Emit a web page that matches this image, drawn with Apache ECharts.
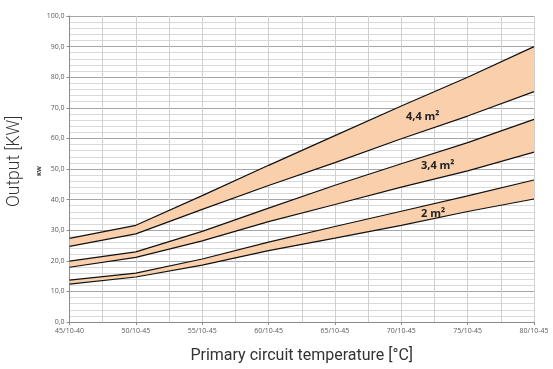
<!DOCTYPE html>
<html>
<head>
<meta charset="utf-8">
<script src="https://cdn.jsdelivr.net/npm/echarts@6/dist/echarts.min.js"></script>
<style>html,body{margin:0;padding:0;background:#fff}#c{width:553px;height:369px}</style>
</head>
<body>
<div id="c"></div>
<script>
var categories = ['45/10-40','50/10-45','55/10-45','60/10-45','65/10-45','70/10-45','75/10-45','80/10-45'];
var upper44 = [27.3, 31.6, 41.3, 51.2, 60.9, 70.6, 80.0, 90.0];
var lower44 = [24.7, 28.8, 36.8, 44.6, 52.1, 59.9, 67.3, 75.3];
var upper34 = [19.9, 22.9, 29.6, 37.2, 44.7, 51.7, 58.6, 66.2];
var lower34 = [17.9, 21.1, 26.5, 32.8, 38.4, 44.1, 49.4, 55.5];
var upper2  = [13.7, 16.0, 20.6, 26.1, 31.2, 36.2, 41.2, 46.4];
var lower2  = [12.4, 14.7, 18.6, 23.3, 27.4, 31.6, 36.1, 40.2];
var bandLabels = ['4,4 m²', '3,4 m²', '2 m²'];
var yTicks = [0,10,20,30,40,50,60,70,80,90,100];

var fill = '#FAD0AC';
function diff(u, l){ return u.map(function(v,i){ return +(v - l[i]).toFixed(2); }); }
function band(name, lo, up){
  return [
    {name: name+' lo', type:'line', stack:name, data: lo, symbol:'none', silent:true,
     lineStyle:{color:'#111', width:1.2}, z:3},
    {name: name, type:'line', stack:name, data: diff(up, lo), symbol:'none', silent:true,
     lineStyle:{color:'#111', width:1.2}, areaStyle:{color: fill, opacity:1}, z:2}
  ];
}
var chart = echarts.init(document.getElementById('c'), null, {renderer:'canvas'});
var series = [].concat(band('b44', lower44, upper44), band('b34', lower34, upper34), band('b2', lower2, upper2));
series.push({type:'line', xAxisIndex:1, data:[], silent:true});
chart.setOption({
  animation:false,
  backgroundColor:'#fff',
  grid:{left:69.5, right:19, top:16, bottom:41},
  xAxis:[{
    type:'category', data: categories, boundaryGap:false,
    axisLine:{lineStyle:{color:'#8c8c8c', width:1}},
    axisTick:{show:true, length:3, lineStyle:{color:'#8c8c8c'}},
    axisLabel:{color:'#595959', fontSize:7, fontFamily:'Open Sans', margin:5},
    splitLine:{show:true, lineStyle:{color:'#a6a6a6', width:1}},
    name:'Primary circuit temperature [°C]', nameLocation:'middle', nameGap:26,
    nameTextStyle:{fontSize:16, color:'#333', fontFamily:'Roboto'}
  },{
    type:'value', min:0, max:7, interval:0.5, show:true, position:'bottom',
    axisLine:{show:false}, axisTick:{show:false}, axisLabel:{show:false},
    splitLine:{show:true, lineStyle:{color:'#d0d0d0', width:1}}, z:0
  }],
  yAxis:{
    type:'value', min:0, max:100, interval:10,
    axisLine:{show:true, lineStyle:{color:'#8c8c8c'}},
    axisTick:{show:true, length:3, lineStyle:{color:'#8c8c8c'}},
    axisLabel:{color:'#595959', fontSize:7, fontFamily:'Open Sans', margin:5,
      formatter:function(v){ return yTicks.indexOf(v) >= 0 ? v.toFixed(1).replace('.', ',') : ''; }},
    splitLine:{show:true, lineStyle:{color:'#a6a6a6', width:1}},
    minorTick:{show:false, splitNumber:5},
    minorSplitLine:{show:true, lineStyle:{color:'#d9d9d9', width:1}}
  },
  series: series,
  graphic:[
    {type:'text', z:100, x:6, y:207, rotation:Math.PI/2, style:{text:'Output [KW]', fontSize:17.5, fill:'#333', fontFamily:'Roboto', fontWeight:300}},
    {type:'text', z:100, x:36, y:176, rotation:Math.PI/2, style:{text:'KW', fontSize:6, fill:'#333', fontWeight:'bold', fontFamily:'Open Sans'}},
    {type:'text', z:100, x:406, y:111, style:{text:bandLabels[0], fontSize:11, fontWeight:'bold', fill:'#222', fontFamily:'Open Sans'}},
    {type:'text', z:100, x:421, y:160, style:{text:bandLabels[1], fontSize:11, fontWeight:'bold', fill:'#222', fontFamily:'Open Sans'}},
    {type:'text', z:100, x:421, y:208, style:{text:bandLabels[2], fontSize:11, fontWeight:'bold', fill:'#222', fontFamily:'Open Sans'}}
  ]
});
</script>
</body>
</html>
